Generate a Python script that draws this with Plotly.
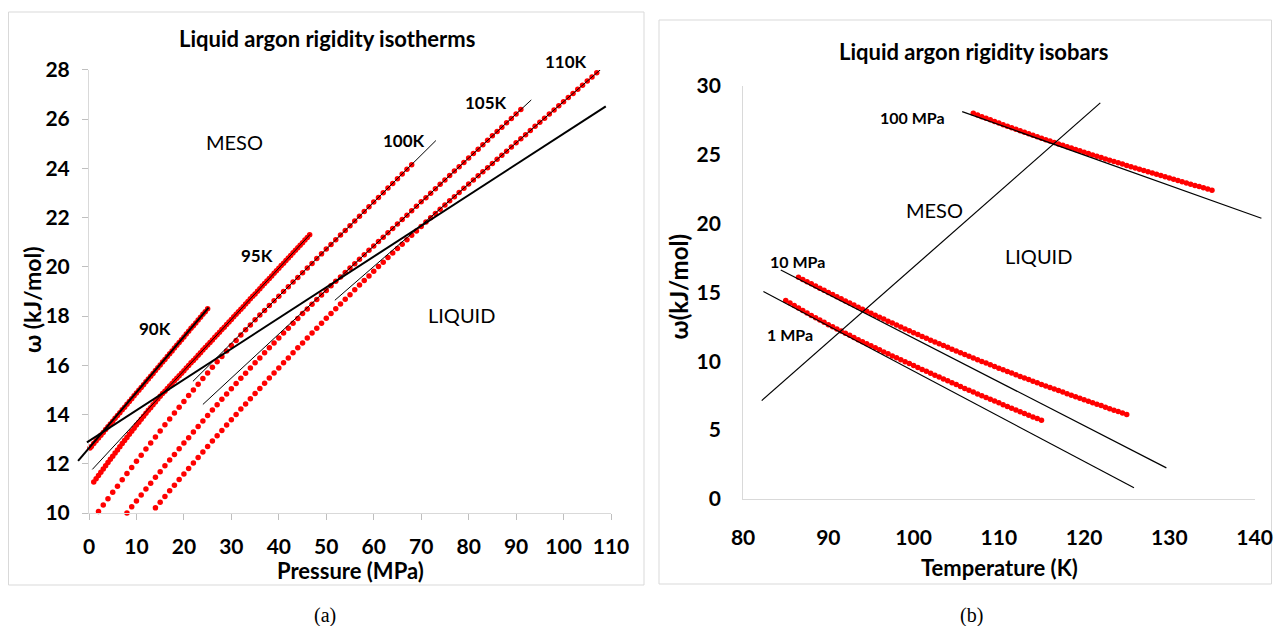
import plotly.graph_objects as go

# ---------------- data: left panel (isotherms) ----------------
P_90K = [0.2, 0.5, 1.0, 1.5, 2.0, 2.5, 3.0, 3.5, 4.0, 4.5, 5.0, 5.5, 6.0, 6.5, 7.0, 7.5, 8.0, 8.5, 9.0, 9.5,
         10.0, 10.5, 11.0, 11.5, 12.0, 12.5, 13.0, 13.5, 14.0, 14.5, 15.0, 15.5, 16.0, 16.5, 17.0, 17.5,
         18.0, 18.5, 19.0, 19.5, 20.0, 20.5, 21.0, 21.5, 22.0, 22.5, 23.0, 23.5, 24.0, 24.5, 25.0]
W_90K = [12.64, 12.70, 12.82, 12.93, 13.05, 13.16, 13.27, 13.39, 13.50, 13.62, 13.73, 13.85, 13.96, 14.07,
         14.19, 14.30, 14.42, 14.53, 14.64, 14.76, 14.87, 14.99, 15.10, 15.21, 15.33, 15.44, 15.56, 15.67,
         15.79, 15.90, 16.01, 16.13, 16.24, 16.36, 16.47, 16.58, 16.70, 16.81, 16.93, 17.04, 17.15, 17.27,
         17.38, 17.50, 17.61, 17.72, 17.84, 17.95, 18.07, 18.18, 18.30]

P_95K = [1.0, 1.5, 2.0, 2.5, 3.0, 3.5, 4.0, 4.5, 5.0, 5.5, 6.0, 6.5, 7.0, 7.5, 8.0, 8.5, 9.0, 9.5, 10.0, 10.5,
         11.0, 11.5, 12.0, 12.5, 13.0, 13.5, 14.0, 14.5, 15.0, 15.5, 16.0, 16.5, 17.0, 17.5, 18.0, 18.5,
         19.0, 19.5, 20.0, 20.5, 21.0, 21.5, 22.0, 22.5, 23.0, 23.5, 24.0, 24.5, 25.0, 25.5, 26.0, 26.5,
         27.0, 27.5, 28.0, 28.5, 29.0, 29.5, 30.0, 30.5, 31.0, 31.5, 32.0, 32.5, 33.0, 33.5, 34.0, 34.5,
         35.0, 35.5, 36.0, 36.5, 37.0, 37.5, 38.0, 38.5, 39.0, 39.5, 40.0, 40.5, 41.0, 41.5, 42.0, 42.5,
         43.0, 43.5, 44.0, 44.5, 45.0, 45.5, 46.0, 46.5]
W_95K = [11.26, 11.39, 11.52, 11.66, 11.79, 11.92, 12.05, 12.18, 12.31, 12.44, 12.56, 12.69, 12.82, 12.95,
         13.07, 13.20, 13.32, 13.44, 13.57, 13.69, 13.81, 13.93, 14.05, 14.17, 14.28, 14.40, 14.51, 14.63,
         14.74, 14.85, 14.95, 15.06, 15.16, 15.26, 15.37, 15.47, 15.58, 15.68, 15.78, 15.89, 15.99, 16.10,
         16.20, 16.30, 16.41, 16.51, 16.62, 16.72, 16.82, 16.93, 17.03, 17.14, 17.24, 17.34, 17.45, 17.55,
         17.66, 17.76, 17.86, 17.97, 18.07, 18.18, 18.28, 18.38, 18.49, 18.59, 18.70, 18.80, 18.90, 19.01,
         19.11, 19.22, 19.32, 19.42, 19.53, 19.63, 19.74, 19.84, 19.94, 20.05, 20.15, 20.26, 20.36, 20.46,
         20.57, 20.67, 20.78, 20.88, 20.98, 21.09, 21.19, 21.30]

P_100K = [2, 3, 4, 5, 6, 7, 8, 9, 10, 11, 12, 13, 14, 15, 16, 17, 18, 19, 20, 21, 22, 23, 24, 25, 26, 27,
          28, 29, 30, 31, 32, 33, 34, 35, 36, 37, 38, 39, 40, 41, 42, 43, 44, 45, 46, 47, 48, 49, 50, 51,
          52, 53, 54, 55, 56, 57, 58, 59, 60, 61, 62, 63, 64, 65, 66, 67, 68]
W_100K = [10.06, 10.32, 10.58, 10.84, 11.09, 11.35, 11.60, 11.85, 12.10, 12.35, 12.60, 12.84, 13.09, 13.33,
          13.58, 13.82, 14.06, 14.30, 14.53, 14.77, 15.00, 15.23, 15.46, 15.69, 15.92, 16.14, 16.36, 16.58,
          16.80, 17.01, 17.23, 17.44, 17.64, 17.85, 18.04, 18.23, 18.43, 18.62, 18.81, 19.00, 19.19, 19.38,
          19.57, 19.76, 19.95, 20.14, 20.34, 20.53, 20.72, 20.91, 21.10, 21.29, 21.48, 21.67, 21.86, 22.05,
          22.25, 22.44, 22.63, 22.82, 23.01, 23.20, 23.39, 23.58, 23.77, 23.96, 24.15]

P_105K = [8, 9, 10, 11, 12, 13, 14, 15, 16, 17, 18, 19, 20, 21, 22, 23, 24, 25, 26, 27, 28, 29, 30, 31,
          32, 33, 34, 35, 36, 37, 38, 39, 40, 41, 42, 43, 44, 45, 46, 47, 48, 49, 50, 51, 52, 53, 54, 55,
          56, 57, 58, 59, 60, 61, 62, 63, 64, 65, 66, 67, 68, 69, 70, 71, 72, 73, 74, 75, 76, 77, 78, 79,
          80, 81, 82, 83, 84, 85, 86, 87, 88, 89, 90, 91]
W_105K = [10.00, 10.25, 10.49, 10.73, 10.97, 11.21, 11.45, 11.68, 11.92, 12.15,
          12.38, 12.61, 12.84, 13.06, 13.29, 13.51, 13.74, 13.96, 14.18, 14.40,
          14.62, 14.83, 15.05, 15.26, 15.47, 15.68, 15.89, 16.10, 16.30, 16.51,
          16.71, 16.91, 17.11, 17.31, 17.51, 17.71, 17.90, 18.10, 18.29, 18.48,
          18.67, 18.86, 19.04, 19.23, 19.41, 19.59, 19.77, 19.95, 20.13, 20.31,
          20.49, 20.67, 20.85, 21.03, 21.20, 21.38, 21.56, 21.74, 21.92, 22.10,
          22.28, 22.46, 22.64, 22.81, 22.99, 23.17, 23.35, 23.53, 23.71, 23.89,
          24.07, 24.24, 24.42, 24.60, 24.78, 24.96, 25.14, 25.32, 25.50, 25.67,
          25.85, 26.03, 26.21, 26.39]

P_110K = [13, 14, 15, 16, 17, 18, 19, 20, 21, 22, 23, 24, 25, 26, 27, 28, 29, 30, 31, 32, 33, 34, 35, 36,
          37, 38, 39, 40, 41, 42, 43, 44, 45, 46, 47, 48, 49, 50, 51, 52, 53, 54, 55, 56, 57, 58, 59, 60,
          61, 62, 63, 64, 65, 66, 67, 68, 69, 70, 71, 72, 73, 74, 75, 76, 77, 78, 79, 80, 81, 82, 83, 84,
          85, 86, 87, 88, 89, 90, 91, 92, 93, 94, 95, 96, 97, 98, 99, 100, 101, 102, 103, 104, 105, 106,
          107, 108]
W_110K = [9.98, 10.21, 10.44, 10.67, 10.90, 11.13, 11.36, 11.58, 11.81, 12.03,
          12.25, 12.48, 12.70, 12.92, 13.14, 13.35, 13.57, 13.79, 14.00, 14.22,
          14.43, 14.64, 14.85, 15.06, 15.27, 15.48, 15.69, 15.89, 16.10, 16.30,
          16.51, 16.71, 16.91, 17.11, 17.31, 17.51, 17.71, 17.91, 18.10, 18.30,
          18.49, 18.68, 18.87, 19.07, 19.26, 19.44, 19.63, 19.82, 20.01, 20.19,
          20.38, 20.56, 20.74, 20.92, 21.10, 21.28, 21.46, 21.64, 21.82, 21.99,
          22.17, 22.34, 22.51, 22.68, 22.85, 23.02, 23.19, 23.36, 23.53, 23.70,
          23.86, 24.03, 24.20, 24.37, 24.53, 24.70, 24.87, 25.04, 25.20, 25.37,
          25.54, 25.71, 25.87, 26.04, 26.21, 26.37, 26.54, 26.71, 26.88, 27.04,
          27.21, 27.38, 27.55, 27.71, 27.88, 28.05]

# fitted straight lines (end points) in the left panel
BOUND_P = [-0.44, 108.9]
BOUND_W = [12.87, 26.52]
FIT90_P = [-2.3, 25.2]
FIT90_W = [12.12, 18.34]
FIT95_P = [0.7, 46.6]
FIT95_W = [11.77, 21.32]
FIT100_P = [21.9, 73.1]
FIT100_W = [15.35, 25.13]
FIT105_P = [24.0, 93.2]
FIT105_W = [14.41, 26.78]
FIT110_P = [51.8, 108.2]
FIT110_W = [18.64, 28.08]

# ---------------- data: right panel (isobars) ----------------
T_1MPA = [85.0, 85.5, 86.0, 86.5, 87.0, 87.5, 88.0, 88.5, 89.0, 89.5, 90.0, 90.5, 91.0, 91.5, 92.0, 92.5,
          93.0, 93.5, 94.0, 94.5, 95.0, 95.5, 96.0, 96.5, 97.0, 97.5, 98.0, 98.5, 99.0, 99.5, 100.0,
          100.5, 101.0, 101.5, 102.0, 102.5, 103.0, 103.5, 104.0, 104.5, 105.0, 105.5, 106.0, 106.5,
          107.0, 107.5, 108.0, 108.5, 109.0, 109.5, 110.0, 110.5, 111.0, 111.5, 112.0, 112.5, 113.0,
          113.5, 114.0, 114.5, 115.0]
W_1MPA = [14.42, 14.23, 14.05, 13.86, 13.68, 13.51, 13.33, 13.16, 12.99, 12.83,
          12.66, 12.50, 12.34, 12.19, 12.03, 11.88, 11.72, 11.57, 11.42, 11.27,
          11.12, 10.98, 10.83, 10.68, 10.54, 10.39, 10.25, 10.11, 9.97, 9.83,
          9.69, 9.55, 9.41, 9.27, 9.13, 8.99, 8.85, 8.71, 8.58, 8.44,
          8.31, 8.17, 8.03, 7.90, 7.77, 7.63, 7.50, 7.37, 7.24, 7.11,
          6.98, 6.85, 6.72, 6.59, 6.46, 6.33, 6.21, 6.08, 5.96, 5.84,
          5.71]

T_10MPA = [86.5, 87.0, 87.5, 88.0, 88.5, 89.0, 89.5, 90.0, 90.5, 91.0, 91.5, 92.0, 92.5, 93.0, 93.5,
           94.0, 94.5, 95.0, 95.5, 96.0, 96.5, 97.0, 97.5, 98.0, 98.5, 99.0, 99.5, 100.0, 100.5, 101.0,
           101.5, 102.0, 102.5, 103.0, 103.5, 104.0, 104.5, 105.0, 105.5, 106.0, 106.5, 107.0, 107.5,
           108.0, 108.5, 109.0, 109.5, 110.0, 110.5, 111.0, 111.5, 112.0, 112.5, 113.0, 113.5, 114.0,
           114.5, 115.0, 115.5, 116.0, 116.5, 117.0, 117.5, 118.0, 118.5, 119.0, 119.5, 120.0, 120.5,
           121.0, 121.5, 122.0, 122.5, 123.0, 123.5, 124.0, 124.5, 125.0]
W_10MPA = [16.10, 15.94, 15.78, 15.62, 15.46, 15.31, 15.15, 14.99, 14.84, 14.69,
           14.53, 14.38, 14.23, 14.08, 13.93, 13.78, 13.64, 13.49, 13.34, 13.20,
           13.06, 12.91, 12.77, 12.63, 12.49, 12.35, 12.21, 12.07, 11.94, 11.80,
           11.67, 11.53, 11.40, 11.27, 11.14, 11.01, 10.88, 10.75, 10.62, 10.49,
           10.36, 10.24, 10.11, 9.99, 9.87, 9.74, 9.62, 9.50, 9.38, 9.26,
           9.14, 9.02, 8.90, 8.79, 8.67, 8.55, 8.44, 8.32, 8.21, 8.10,
           7.98, 7.87, 7.76, 7.65, 7.54, 7.43, 7.32, 7.21, 7.10, 6.99,
           6.88, 6.78, 6.67, 6.56, 6.45, 6.35, 6.24, 6.13]

T_100MPA = [107.0, 107.5, 108.0, 108.5, 109.0, 109.5, 110.0, 110.5, 111.0, 111.5, 112.0, 112.5, 113.0,
            113.5, 114.0, 114.5, 115.0, 115.5, 116.0, 116.5, 117.0, 117.5, 118.0, 118.5, 119.0, 119.5,
            120.0, 120.5, 121.0, 121.5, 122.0, 122.5, 123.0, 123.5, 124.0, 124.5, 125.0, 125.5, 126.0,
            126.5, 127.0, 127.5, 128.0, 128.5, 129.0, 129.5, 130.0, 130.5, 131.0, 131.5, 132.0, 132.5,
            133.0, 133.5, 134.0, 134.5, 135.0]
W_100MPA = [28.00, 27.88, 27.76, 27.64, 27.53, 27.41, 27.30, 27.18, 27.07, 26.96,
            26.85, 26.73, 26.62, 26.52, 26.41, 26.30, 26.20, 26.09, 25.99, 25.88,
            25.78, 25.68, 25.58, 25.48, 25.38, 25.28, 25.18, 25.08, 24.98, 24.89,
            24.79, 24.69, 24.60, 24.50, 24.41, 24.32, 24.22, 24.13, 24.03, 23.94,
            23.85, 23.76, 23.67, 23.58, 23.48, 23.39, 23.30, 23.21, 23.12, 23.03,
            22.95, 22.86, 22.77, 22.68, 22.59, 22.50, 22.42]

DIAG_T = [82.18, 121.9]
DIAG_W = [7.14, 28.76]
FIT100MPA_T = [105.7, 140.8]
FIT100MPA_W = [28.13, 20.38]
FIT10MPA_T = [84.42, 129.65]
FIT10MPA_W = [16.63, 2.26]
FIT1MPA_T = [82.38, 125.85]
FIT1MPA_W = [15.06, 0.81]

# tick values / ranges
LEFT_XRANGE = [0, 110]
LEFT_YRANGE = [10, 28]
RIGHT_XRANGE = [80, 140]
RIGHT_YRANGE = [0, 30]

# ---------------- layout helpers ----------------
FW, FH = 1274, 626
FONT = "Lato"
RED = "#ff0000"


def fx(px):
    return min(1.0, max(0.0, px / FW))


def fy(py):
    return min(1.0, max(0.0, 1 - py / FH))


def dom_x(a, b):
    return [fx(a), fx(b)]


def dom_y(top, bottom):
    return [fy(bottom), fy(top)]


def extend(dom, rng, new_rng):
    span = rng[1] - rng[0]
    d = dom[1] - dom[0]
    lo = dom[0] + (new_rng[0] - rng[0]) / span * d
    hi = dom[0] + (new_rng[1] - rng[0]) / span * d
    return [max(0.0, lo), min(1.0, hi)]


LX_DOM = dom_x(89, 611)
LY_DOM = dom_y(69.9, 513)
RX_DOM = dom_x(743.1, 1254.6)
RY_DOM = dom_y(85.8, 499)

LX_EXT = [-4, 112]
RX_EXT = [78, 141.5]

fig = go.Figure()


def dots(x, y, xa, ya):
    fig.add_trace(go.Scatter(x=x, y=y, mode="markers", xaxis=xa, yaxis=ya,
                             marker=dict(color=RED, size=5.5, line=dict(width=0)),
                             cliponaxis=False, showlegend=False, hoverinfo="skip"))


def seg(x, y, xa, ya, w):
    fig.add_trace(go.Scatter(x=x, y=y, mode="lines", xaxis=xa, yaxis=ya,
                             line=dict(color="black", width=w),
                             showlegend=False, hoverinfo="skip"))


for p, w in [(P_90K, W_90K), (P_95K, W_95K), (P_100K, W_100K), (P_105K, W_105K), (P_110K, W_110K)]:
    dots(p, w, "x", "y")
for t, w in [(T_1MPA, W_1MPA), (T_10MPA, W_10MPA), (T_100MPA, W_100MPA)]:
    dots(t, w, "x2", "y2")

seg(BOUND_P, BOUND_W, "x3", "y3", 2)
seg(FIT90_P, FIT90_W, "x3", "y3", 2)
seg(FIT95_P, FIT95_W, "x3", "y3", 1)
seg(FIT100_P, FIT100_W, "x3", "y3", 1)
seg(FIT105_P, FIT105_W, "x3", "y3", 1)
seg(FIT110_P, FIT110_W, "x3", "y3", 1)

seg(DIAG_T, DIAG_W, "x4", "y4", 1.2)
seg(FIT100MPA_T, FIT100MPA_W, "x4", "y4", 1.2)
seg(FIT10MPA_T, FIT10MPA_W, "x4", "y4", 1.2)
seg(FIT1MPA_T, FIT1MPA_W, "x4", "y4", 1.2)

tickfont = dict(family=FONT, size=21, color="black", weight="bold")
axis_common = dict(showgrid=False, zeroline=False, showline=True, linecolor="#d9d9d9", linewidth=1,
                   tickfont=tickfont, fixedrange=True, automargin=False)

fig.update_layout(
    width=FW, height=FH, autosize=False,
    margin=dict(l=0, r=0, t=0, b=0, pad=0, autoexpand=False),
    paper_bgcolor="white", plot_bgcolor="rgba(0,0,0,0)",
    showlegend=False,
    xaxis=dict(domain=LX_DOM, range=LEFT_XRANGE, anchor="y", dtick=10, tick0=0,
               ticks="outside", ticklen=6, tickcolor="#bfbfbf", ticklabelstandoff=9, **axis_common),
    yaxis=dict(domain=LY_DOM, range=LEFT_YRANGE, anchor="x", dtick=2, tick0=10,
               ticks="outside", ticklen=6, tickcolor="#bfbfbf", ticklabelstandoff=8, **axis_common),
    xaxis2=dict(domain=RX_DOM, range=RIGHT_XRANGE, anchor="y2", dtick=10, tick0=80,
                ticks="", ticklabelstandoff=20, **axis_common),
    yaxis2=dict(domain=RY_DOM, range=RIGHT_YRANGE, anchor="x2", dtick=5, tick0=0,
                ticks="", ticklabelstandoff=17, **axis_common),
    xaxis3=dict(domain=extend(LX_DOM, LEFT_XRANGE, LX_EXT), range=LX_EXT, anchor="y3", visible=False,
                fixedrange=True),
    yaxis3=dict(domain=LY_DOM, range=LEFT_YRANGE, anchor="x3", visible=False, fixedrange=True),
    xaxis4=dict(domain=extend(RX_DOM, RIGHT_XRANGE, RX_EXT), range=RX_EXT, anchor="y4", visible=False,
                fixedrange=True),
    yaxis4=dict(domain=RY_DOM, range=RIGHT_YRANGE, anchor="x4", visible=False, fixedrange=True),
)

# panel frames
for (x0, y0, x1, y1) in [(8.5, 12, 644, 585), (659, 20, 1271.5, 584)]:
    fig.add_shape(type="rect", xref="paper", yref="paper", x0=fx(x0), x1=fx(x1),
                  y0=fy(y1), y1=fy(y0), line=dict(color="#d9d9d9", width=1),
                  fillcolor="rgba(0,0,0,0)", layer="below")


def label(text, px, py, size, bold=False, angle=0, family=FONT):
    fig.add_annotation(text=text, xref="paper", yref="paper", x=fx(px), y=fy(py),
                       xanchor="center", yanchor="middle", showarrow=False, textangle=angle,
                       font=dict(family=family, size=size, color="black",
                                 weight="bold" if bold else "normal"))


# left panel texts
label("Liquid argon rigidity isotherms", 326.5, 38, 22, bold=True)
label("MESO", 234.7, 141.7, 20)
label("LIQUID", 461.2, 315.4, 20)
label("90K", 155.1, 328.1, 17, bold=True)
label("95K", 257.1, 255.5, 17, bold=True)
label("100K", 404.1, 140.5, 17, bold=True)
label("105K", 485.7, 103, 17, bold=True)
label("110K", 566.1, 61.1, 17, bold=True)
label("ω (kJ/mol)", 32.7, 299.4, 23, bold=True, angle=-90)
label("Pressure (MPa)", 350, 570, 22, bold=True)
label("(a)", 325.3, 615.5, 20, family="Liberation Serif")

# right panel texts
label("Liquid argon rigidity isobars", 973.6, 51.1, 22, bold=True)
label("100 MPa", 912.1, 117.8, 16, bold=True)
label("10 MPa", 797.7, 261.5, 16, bold=True)
label("1 MPa", 790.4, 334.5, 16, bold=True)
label("MESO", 934, 209.6, 20)
label("LIQUID", 1038.3, 255.5, 20)
label("ω(kJ/mol)", 678.4, 287, 24, bold=True, angle=-90)
label("Temperature (K)", 999, 567, 22, bold=True)
label("(b)", 971.6, 615.5, 20, family="Liberation Serif")

fig.write_html("out.html", config={"displayModeBar": False},
               post_script="document.body.style.margin='0px';document.body.style.overflow='hidden';")
